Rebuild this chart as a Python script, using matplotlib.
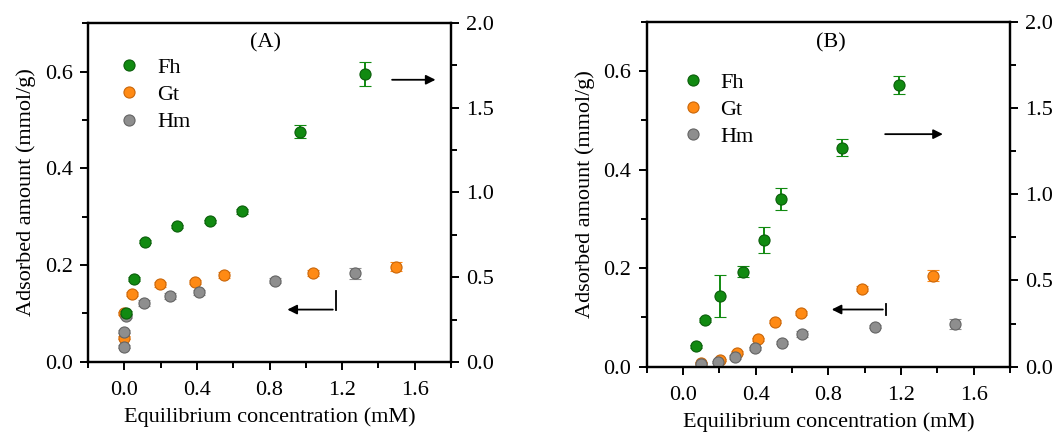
import numpy as np
import matplotlib
matplotlib.use("Agg")
import matplotlib.pyplot as plt
from matplotlib.ticker import MultipleLocator, FormatStrFormatter

plt.rcParams['font.family'] = ['Liberation Serif', 'DejaVu Serif']
plt.rcParams['font.size'] = 15

# panel A  (Gt, Hm on left axis mmol/g ; Fh on right axis)
a_fh_x = [0.011, 0.055, 0.114, 0.289, 0.473, 0.649, 0.966, 1.326]
a_fh_y = [0.29, 0.49, 0.71, 0.80, 0.83, 0.89, 1.36, 1.70]
a_fh_e = [0.01, 0.01, 0.01, 0.01, 0.01, 0.015, 0.04, 0.07]
a_gt_x = [-0.003, 0.0, 0.042, 0.195, 0.39, 0.548, 1.039, 1.499]
a_gt_y = [0.100, 0.050, 0.141, 0.160, 0.165, 0.180, 0.183, 0.197]
a_gt_e = [0.003, 0.003, 0.004, 0.006, 0.004, 0.006, 0.006, 0.010]
a_hm_x = [0.0, 0.0, 0.012, 0.107, 0.252, 0.41, 0.828, 1.269]
a_hm_y = [0.031, 0.062, 0.094, 0.122, 0.136, 0.144, 0.168, 0.183]
a_hm_e = [0.003, 0.003, 0.003, 0.006, 0.006, 0.005, 0.005, 0.011]

# panel B
b_fh_x = [0.070, 0.121, 0.204, 0.332, 0.446, 0.537, 0.873, 1.189]
b_fh_y = [0.117, 0.271, 0.409, 0.551, 0.734, 0.971, 1.271, 1.634]
b_fh_e = [0.01, 0.01, 0.123, 0.031, 0.077, 0.063, 0.051, 0.051]
b_gt_x = [0.097, 0.202, 0.300, 0.411, 0.505, 0.648, 0.983, 1.378]
b_gt_y = [0.007, 0.014, 0.028, 0.056, 0.091, 0.108, 0.158, 0.185]
b_gt_e = [0.002, 0.002, 0.003, 0.003, 0.003, 0.004, 0.005, 0.012]
b_hm_x = [0.097, 0.193, 0.286, 0.396, 0.543, 0.657, 1.057, 1.497]
b_hm_y = [0.006, 0.010, 0.020, 0.037, 0.049, 0.066, 0.081, 0.086]
b_hm_e = [0.002, 0.002, 0.004, 0.003, 0.003, 0.006, 0.003, 0.010]

names = ["Fh", "Gt", "Hm"]
colors = ["#118a11", "#ff8a14", "#8e8e8e"]
edges = ["#0b5e0b", "#c9660a", "#646464"]


def style(ax, ax2):
    ax.set_xlim(-0.2, 1.8)
    ax.set_ylim(0, 0.7)
    ax2.set_ylim(0, 2.0)
    ax.xaxis.set_major_locator(MultipleLocator(0.4))
    ax.xaxis.set_minor_locator(MultipleLocator(0.2))
    ax.yaxis.set_major_locator(MultipleLocator(0.2))
    ax.yaxis.set_minor_locator(MultipleLocator(0.1))
    ax2.yaxis.set_major_locator(MultipleLocator(0.5))
    ax2.yaxis.set_minor_locator(MultipleLocator(0.25))
    ax.xaxis.set_major_formatter(FormatStrFormatter('%.1f'))
    ax.yaxis.set_major_formatter(FormatStrFormatter('%.1f'))
    ax2.yaxis.set_major_formatter(FormatStrFormatter('%.1f'))
    for a in (ax, ax2):
        for s in a.spines.values():
            s.set_linewidth(1.6)
        a.tick_params(which='major', direction='out', length=6, width=1.4,
                      labelsize=16, pad=5)
        a.tick_params(which='minor', direction='out', length=4, width=1.4)
    ax.tick_params(axis='x', which='major', pad=8)
    ax.tick_params(top=False, right=False, which='both')
    ax2.tick_params(top=False, left=False, which='both')
    ax.set_xlabel("Equilibrium concentration (mM)", fontsize=16, labelpad=5)
    ax.set_ylabel("Adsorbed amount (mmol/g)", fontsize=16, labelpad=6)


def panel(ax, fh, gt, hm, label, label_xy, leg_anchor):
    ax2 = ax.twinx()
    handles = []
    for (x, y, e), tgt, c, ec, n in zip([fh, gt, hm], [ax2, ax, ax],
                                         colors, edges, names):
        tgt.errorbar(x, y, yerr=e, fmt='o', color=c, mec=ec, mew=0.8,
                     ms=8, ecolor=c, elinewidth=1.4, capsize=4, capthick=1.4,
                     label=n, zorder=3)
        handles.append(tgt.plot([], [], 'o', color=c, mec=ec, mew=0.8, ms=8)[0])
    style(ax, ax2)
    ax.text(label_xy[0], label_xy[1], label, ha='center', va='center', fontsize=16)
    ax.legend(handles, names, loc='upper left', bbox_to_anchor=leg_anchor,
              frameon=False, handletextpad=0.65, labelspacing=0.3,
              fontsize=16, borderaxespad=0, handlelength=1.2)
    return ax2


fig = plt.figure(figsize=(10.6, 4.37), dpi=100)
axA = fig.add_axes([0.083, 0.172, 0.3425, 0.775])
axB = fig.add_axes([0.610, 0.161, 0.343, 0.789])

axA2 = panel(axA, (a_fh_x, a_fh_y, a_fh_e), (a_gt_x, a_gt_y, a_gt_e),
             (a_hm_x, a_hm_y, a_hm_e), "(A)", (0.78, 0.659), (0.053, 0.925))
axB2 = panel(axB, (b_fh_x, b_fh_y, b_fh_e), (b_gt_x, b_gt_y, b_gt_e),
             (b_hm_x, b_hm_y, b_hm_e), "(B)", (0.812, 0.658), (0.066, 0.88))

arrow = dict(arrowstyle='-|>', color='black', lw=1.3, mutation_scale=14)
# panel A arrows
axA.annotate("", xy=(1.73, 0.583), xytext=(1.46, 0.583), arrowprops=arrow)
axA.plot([1.164, 1.164], [0.147, 0.108], color='black', lw=1.3)
axA.annotate("", xy=(0.883, 0.108), xytext=(1.164, 0.108), arrowprops=arrow)
# panel B arrows
axB.annotate("", xy=(1.445, 0.472), xytext=(1.097, 0.472), arrowprops=arrow)
axB.plot([1.115, 1.115], [0.104, 0.128], color='black', lw=1.3)
axB.annotate("", xy=(0.803, 0.116), xytext=(1.115, 0.116), arrowprops=arrow)

fig.savefig("out.png", dpi=100)
